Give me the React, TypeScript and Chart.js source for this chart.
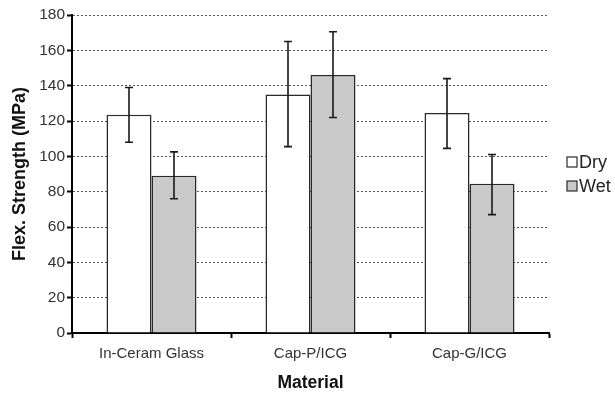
import React, { useEffect, useRef } from "react";
import { Chart, registerables } from "chart.js";

Chart.register(...registerables);

const categories = ["In-Ceram Glass", "Cap-P/ICG", "Cap-G/ICG"];
const seriesNames = ["Dry", "Wet"];
const dryMean = [123.5, 135, 124.5];
const dryLow = [108, 105.5, 104.5];
const dryHigh = [139, 165, 144];
const wetMean = [89, 146, 84.5];
const wetLow = [76, 122, 67];
const wetHigh = [102.5, 170.5, 101];
const yTicks = [0, 20, 40, 60, 80, 100, 120, 140, 160, 180];

const FONT = "'Liberation Sans', Arial, sans-serif";

const errorBars = {
  id: "errorBars",
  afterDatasetsDraw(chart: any) {
    const ctx = chart.ctx;
    const y = chart.scales.y;
    const lows = [dryLow, wetLow];
    const highs = [dryHigh, wetHigh];
    chart.data.datasets.forEach((_: any, di: number) => {
      const meta = chart.getDatasetMeta(di);
      meta.data.forEach((bar: any, i: number) => {
        const x = bar.x;
        const top = y.getPixelForValue(highs[di][i]);
        const bot = y.getPixelForValue(lows[di][i]);
        ctx.save();
        ctx.strokeStyle = "#1a1a1a";
        ctx.lineWidth = 1.6;
        ctx.beginPath();
        ctx.moveTo(x, top);
        ctx.lineTo(x, bot);
        ctx.moveTo(x - 4, top);
        ctx.lineTo(x + 4, top);
        ctx.moveTo(x - 4, bot);
        ctx.lineTo(x + 4, bot);
        ctx.stroke();
        ctx.restore();
      });
    });
  },
};

const sideLegend = {
  id: "sideLegend",
  afterDraw(chart: any) {
    const ctx = chart.ctx;
    const area = chart.chartArea;
    const x0 = area.right + 18;
    const mid = (area.top + area.bottom) / 2;
    const step = 24;
    const n = chart.data.datasets.length;
    const startY = mid - ((n - 1) * step) / 2;
    ctx.save();
    chart.data.datasets.forEach((ds: any, i: number) => {
      const cy = startY + i * step;
      ctx.fillStyle = ds.backgroundColor;
      ctx.fillRect(x0, cy - 5, 10, 10);
      ctx.strokeStyle = "#2a2a2a";
      ctx.lineWidth = 1.2;
      ctx.strokeRect(x0, cy - 5, 10, 10);
      ctx.fillStyle = "#222";
      ctx.font = "18px " + FONT;
      ctx.textBaseline = "middle";
      ctx.textAlign = "left";
      ctx.fillText(ds.label, x0 + 12, cy + 1);
    });
    ctx.restore();
  },
};

export default function App() {
  const ref = useRef<HTMLCanvasElement | null>(null);
  useEffect(() => {
    if (!ref.current) return;
    Chart.defaults.font.family = FONT;
    const chart = new Chart(ref.current, {
      type: "bar",
      data: {
        labels: categories,
        datasets: [
          {
            label: seriesNames[0],
            data: dryMean,
            backgroundColor: "#ffffff",
            borderColor: "#2a2a2a",
            borderWidth: 1.5,
            categoryPercentage: 0.566,
            barPercentage: 1,
          },
          {
            label: seriesNames[1],
            data: wetMean,
            backgroundColor: "#c9c9c9",
            borderColor: "#2a2a2a",
            borderWidth: 1.5,
            categoryPercentage: 0.566,
            barPercentage: 1,
          },
        ],
      },
      plugins: [errorBars, sideLegend],
      options: {
        animation: false,
        responsive: false,
        devicePixelRatio: 1,
        layout: { padding: { top: 15, right: 66, left: 0, bottom: 0 } },
        plugins: {
          tooltip: { enabled: false },
          legend: { display: false },
        },
        scales: {
          x: {
            afterFit(scale: any) {
              scale.height = 65;
            },
            grid: {
              display: true,
              offset: true,
              drawOnChartArea: false,
              drawTicks: true,
              tickLength: 5,
              tickColor: "#000",
              tickWidth: 2,
            },
            border: { display: true, color: "#000", width: 2 },
            ticks: { color: "#333", font: { size: 15 }, padding: 7 },
            title: {
              display: true,
              text: "Material",
              color: "#111",
              font: { size: 17.5, weight: "bold" },
              padding: { top: 0, bottom: 4.5 },
            },
          },
          y: {
            min: 0,
            max: 180,
            afterFit(scale: any) {
              scale.width = 72;
            },
            afterBuildTicks(scale: any) {
              scale.ticks = yTicks.map((v) => ({ value: v }));
            },
            grid: {
              color: "#555",
              lineWidth: 1,
              drawTicks: true,
              tickLength: 5,
              tickColor: "#000",
              tickWidth: 2,
              tickBorderDash: [],
            },
            border: { display: true, color: "#000", width: 2, dash: [2, 2] },
            ticks: { color: "#333", font: { size: 15.5 }, padding: 2 },
            title: {
              display: true,
              text: "Flex. Strength (MPa)",
              color: "#111",
              font: { size: 18, weight: "bold" },
              padding: { top: 9, bottom: 0 },
            },
          },
        },
      },
    });
    return () => chart.destroy();
  }, []);
  return (
    <div style={{ position: "absolute", left: 0, top: 0, width: 615, height: 398, background: "#fff" }}>
      <canvas ref={ref} width={615} height={398} />
    </div>
  );
}
